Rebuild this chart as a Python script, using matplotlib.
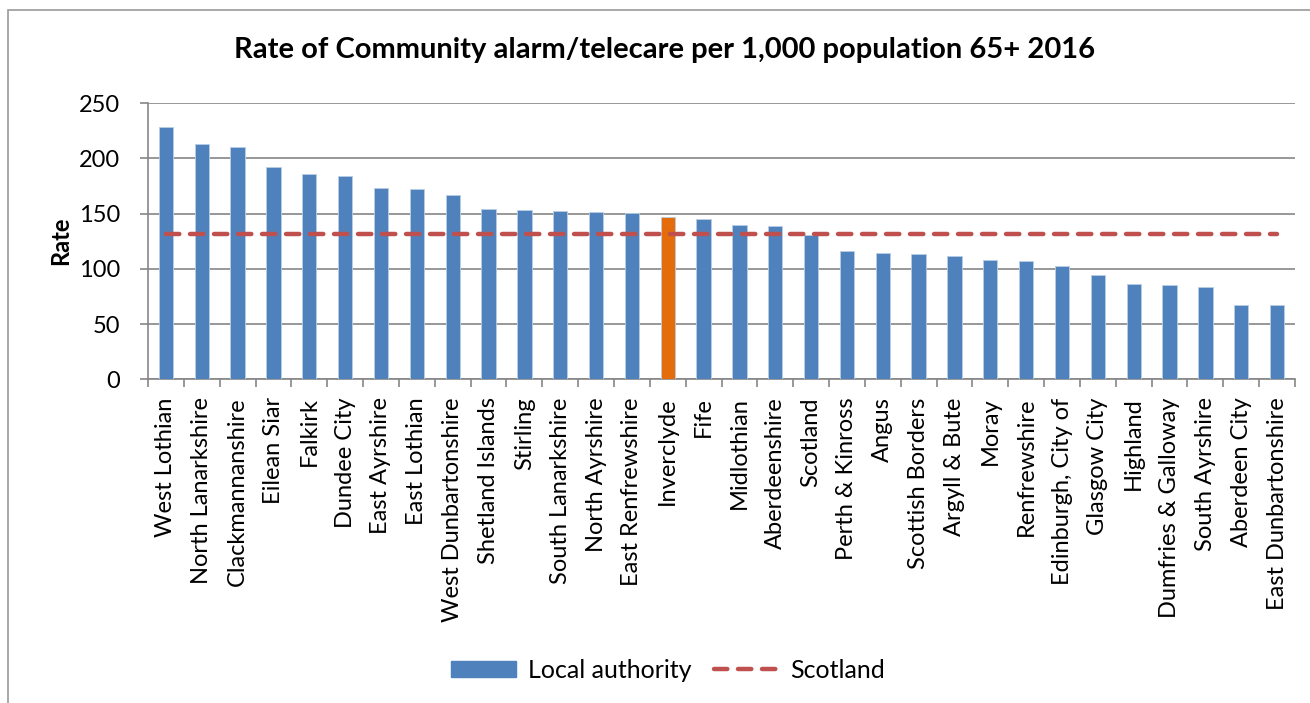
import matplotlib
matplotlib.use("Agg")
import matplotlib.pyplot as plt
import numpy as np
from matplotlib.patches import Rectangle, Patch
from matplotlib.lines import Line2D

categories = ["West Lothian", "North Lanarkshire", "Clackmannanshire", "Eilean Siar",
              "Falkirk", "Dundee City", "East Ayrshire", "East Lothian",
              "West Dunbartonshire", "Shetland Islands", "Stirling", "South Lanarkshire",
              "North Ayrshire", "East Renfrewshire", "Inverclyde", "Fife", "Midlothian",
              "Aberdeenshire", "Scotland", "Perth & Kinross", "Angus", "Scottish Borders",
              "Argyll & Bute", "Moray", "Renfrewshire", "Edinburgh, City of",
              "Glasgow City", "Highland", "Dumfries & Galloway", "South Ayrshire",
              "Aberdeen City", "East Dunbartonshire"]
rates = [228.7, 213.3, 210.0, 191.9, 185.9, 183.5, 173.5, 172.0, 167.2, 153.9,
         153.6, 152.7, 151.8, 150.9, 147.3, 145.2, 139.2, 138.9, 131.0, 115.7,
         114.4, 113.5, 111.4, 107.8, 107.2, 102.7, 94.6, 85.9, 85.2, 83.1,
         67.4, 67.2]
scotland_rate = 131.3
highlight = "Inverclyde"

title = "Rate of Community alarm/telecare per 1,000 population 65+ 2016"
y_label = "Rate"
y_ticks = [0, 50, 100, 150, 200, 250]

BLUE = "#4F81BD"
ORANGE = "#E46C0A"
RED = "#C0504D"
GRID = "#868686"

plt.rcParams['font.family'] = ['Lato', 'DejaVu Sans']

fig = plt.figure(figsize=(13.10, 7.03), dpi=100)
fig.patches.append(Rectangle((8/1310, -0.01), 1.2, 1 - 10/703 + 0.01, transform=fig.transFigure,
                             fill=False, edgecolor="#9a9a9a", linewidth=1.2))

ax = fig.add_axes([148/1310, 1 - 379.3/703, (1295 - 148)/1310, (379.3 - 103)/703])

x = np.arange(len(categories))
colors = [ORANGE if c == highlight else BLUE for c in categories]
ax.bar(x, rates, width=0.4, color=colors, edgecolor="#B9CDE5", linewidth=0.6, zorder=3)
ax.plot(x, [scotland_rate] * len(x), color=RED, linewidth=3.2, linestyle=(0, (3, 2.4)),
        dash_capstyle="round", zorder=4)

ax.set_xlim(-0.5, len(categories) - 0.5)
ax.set_ylim(0, 250)
ax.set_yticks(y_ticks)
ax.set_xticks(x)
ax.set_xticklabels(categories, rotation=90, fontsize=17)
ax.set_xticks(np.arange(len(categories) + 1) - 0.5, minor=True)
ax.tick_params(axis="x", which="major", length=0, pad=13)
ax.tick_params(axis="x", which="minor", length=6, width=1.2, color=GRID, direction="out")
ax.tick_params(axis="y", length=6, width=1.2, color=GRID, pad=14, labelsize=17)

ax.grid(axis="y", color=GRID, linewidth=1.2, zorder=0)
for s in ["top", "right"]:
    ax.spines[s].set_visible(False)
for s in ["left", "bottom"]:
    ax.spines[s].set_color(GRID)
    ax.spines[s].set_linewidth(1.2)

ax.set_ylabel(y_label, fontsize=17, fontweight="bold", labelpad=5)
fig.text(665/1310, 1 - 50/703, title, ha="center", va="center", fontsize=21, fontweight="bold")

handles = [Patch(facecolor=BLUE, edgecolor=BLUE, label="Local authority"),
           Line2D([0], [0], color=RED, linewidth=3.2, linestyle=(0, (3, 2.4)),
                  dash_capstyle="round", label="Scotland")]
fig.legend(handles=handles, loc="center", bbox_to_anchor=(668/1310, 1 - 670/703), ncol=2,
           frameon=False, fontsize=18, handlelength=2.6, handleheight=0.6,
           columnspacing=0.9, handletextpad=0.45)

fig.savefig("out.png", dpi=100)
